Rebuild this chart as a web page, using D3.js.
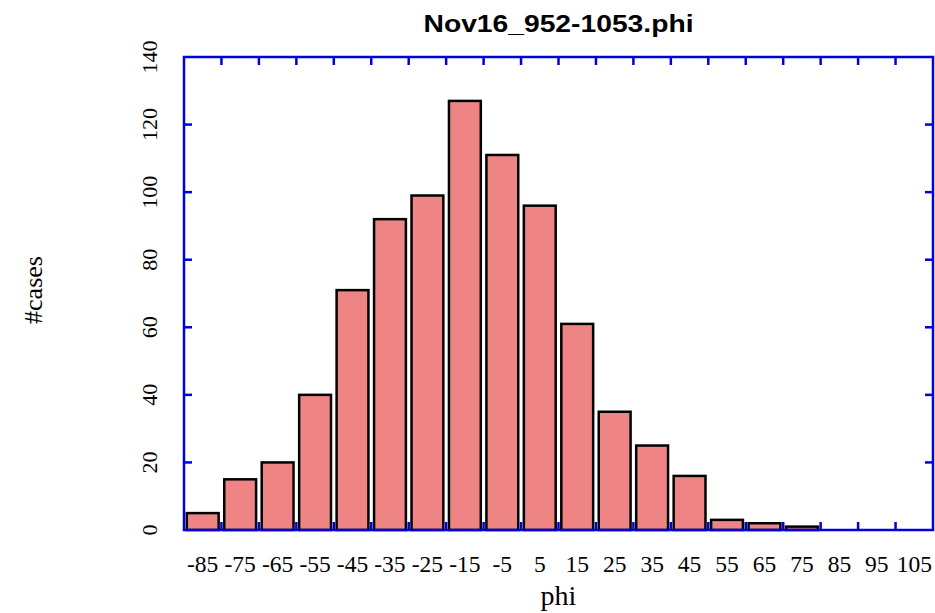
<!DOCTYPE html>
<html>
<head>
<meta charset="utf-8">
<script src="https://cdn.jsdelivr.net/npm/d3@7"></script>
<style>
  body { margin: 0; background: #fff; }
  svg { display: block; }
</style>
</head>
<body>
<div id="chart"></div>
<script>
// Histogramme des angles phi
const width = 935, height = 613
const margin = {top: 57, right: 2, bottom: 83, left: 184}

// Données
const categories = ["-85","-75","-65","-55","-45","-35","-25","-15","-5","5","15","25","35","45","55","65","75","85","95","105"]
const counts = [5, 15, 20, 40, 71, 92, 99, 127, 111, 96, 61, 35, 25, 16, 3, 2, 1, 0, 0, 0]
const yTicks = [0, 20, 40, 60, 80, 100, 120, 140]

const data = categories.map((c, i) => ({cat: c, n: counts[i]}))

const svg = d3.select("#chart")
  .append("svg")
    .attr("width", width)
    .attr("height", height)

const x0 = margin.left, x1 = width - margin.right
const y0 = height - margin.bottom, y1 = margin.top

const x = d3.scaleBand()
  .domain(categories)
  .range([x0, x1])
  .paddingInner(0.15)
  .paddingOuter(0.075)

// Échelle linéaire pour les positions des graduations (frontières des classes)
const xEdge = d3.scaleLinear().domain([0, categories.length]).range([x0, x1])

const y = d3.scaleLinear()
  .domain([0, 140])
  .range([y0, y1])

const blue = "#0000dd"
const serif = "'Liberation Serif', 'DejaVu Serif', serif"

// Barres
svg.append("g")
  .selectAll("rect")
  .data(data)
  .join("rect")
    .attr("x", d => x(d.cat))
    .attr("y", d => y(d.n))
    .attr("width", x.bandwidth())
    .attr("height", d => y(0) - y(d.n))
    .attr("fill", "#ef8484")
    .attr("stroke", "black")
    .attr("stroke-width", 2.5)

// Graduations internes, bas et haut
const edges = d3.range(1, categories.length)
svg.append("g")
  .selectAll("line")
  .data(edges)
  .join("line")
    .attr("x1", d => xEdge(d)).attr("x2", d => xEdge(d))
    .attr("y1", y0).attr("y2", y0 - 8)
    .attr("stroke", blue).attr("stroke-width", 2.5)
svg.append("g")
  .selectAll("line")
  .data(edges)
  .join("line")
    .attr("x1", d => xEdge(d)).attr("x2", d => xEdge(d))
    .attr("y1", y1).attr("y2", y1 + 8)
    .attr("stroke", blue).attr("stroke-width", 2.5)

// Graduations internes, gauche et droite
const inner = yTicks.slice(1, -1)
svg.append("g")
  .selectAll("line")
  .data(inner)
  .join("line")
    .attr("x1", x0).attr("x2", x0 + 8)
    .attr("y1", d => y(d)).attr("y2", d => y(d))
    .attr("stroke", blue).attr("stroke-width", 2.5)
svg.append("g")
  .selectAll("line")
  .data(inner)
  .join("line")
    .attr("x1", x1).attr("x2", x1 - 8)
    .attr("y1", d => y(d)).attr("y2", d => y(d))
    .attr("stroke", blue).attr("stroke-width", 2.5)

// Cadre
svg.append("rect")
  .attr("x", x0).attr("y", y1)
  .attr("width", x1 - x0).attr("height", y0 - y1)
  .attr("fill", "none")
  .attr("stroke", blue)
  .attr("stroke-width", 2.5)

// Labels de l'axe x
svg.append("g")
  .selectAll("text")
  .data(categories)
  .join("text")
    .attr("x", d => x(d) + x.bandwidth() / 2)
    .attr("y", 572)
    .attr("text-anchor", "middle")
    .style("font-family", serif)
    .style("font-size", "23.5px")
    .text(d => d)

// Labels de l'axe y (tournés)
svg.append("g")
  .selectAll("text")
  .data(yTicks)
  .join("text")
    .attr("transform", d => `translate(157,${y(d)}) rotate(-90)`)
    .attr("text-anchor", "middle")
    .style("font-family", serif)
    .style("font-size", "22px")
    .text(d => d)

// Titres
svg.append("text")
  .attr("x", (x0 + x1) / 2)
  .attr("y", 32)
  .attr("text-anchor", "middle")
  .attr("textLength", 270)
  .attr("lengthAdjust", "spacingAndGlyphs")
  .style("font-family", "'Liberation Sans', Arial, sans-serif")
  .style("font-weight", "bold")
  .style("font-size", "24px")
  .text("Nov16_952-1053.phi")

svg.append("text")
  .attr("x", (x0 + x1) / 2)
  .attr("y", 605)
  .attr("text-anchor", "middle")
  .style("font-family", serif)
  .style("font-size", "28px")
  .text("phi")

svg.append("text")
  .attr("transform", `translate(42,290) rotate(-90)`)
  .attr("text-anchor", "middle")
  .style("font-family", serif)
  .style("font-size", "26px")
  .text("#cases")
</script>
</body>
</html>
